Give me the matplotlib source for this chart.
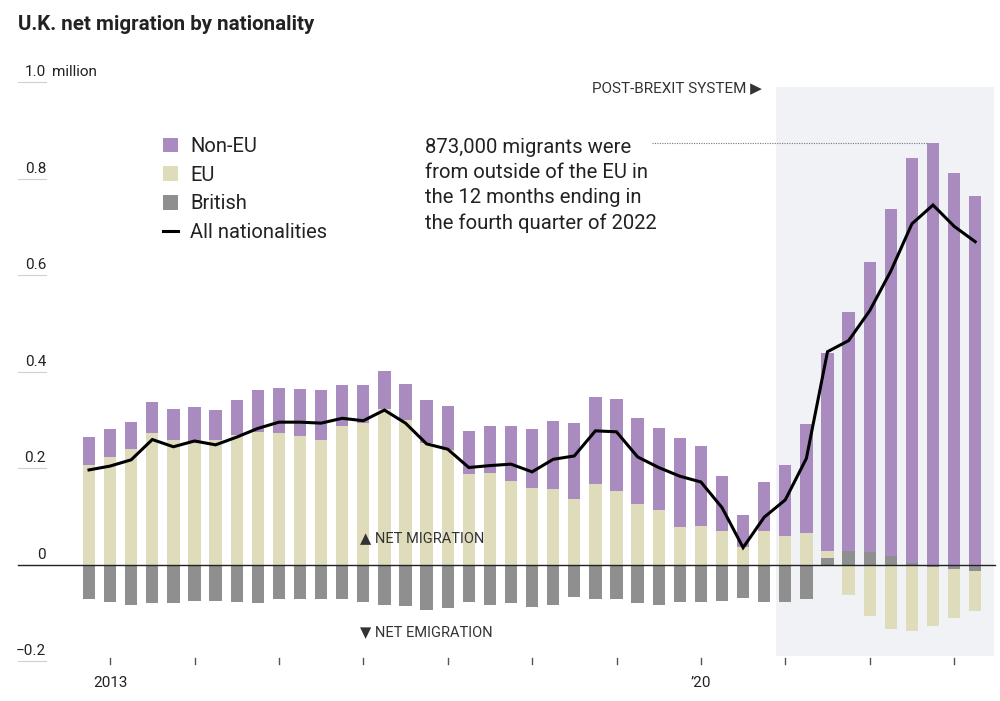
import numpy as np
import matplotlib
matplotlib.use('Agg')
import matplotlib.pyplot as plt
from matplotlib.patches import Patch, Rectangle
from matplotlib.lines import Line2D

plt.rcParams['font.family'] = ['Roboto', 'DejaVu Sans']

# quarters, 12 months ending in each quarter (2012 Q4 .. 2023 Q2)
quarters = [f"{y} Q{q}" for y in range(2012, 2024) for q in range(1, 5)][3:46]

# net migration, millions
non_eu = [0.059, 0.058, 0.056, 0.065, 0.064, 0.074, 0.063, 0.073, 0.086, 0.094,
          0.098, 0.102, 0.086, 0.079, 0.079, 0.075, 0.090, 0.092, 0.089, 0.098,
          0.114, 0.121, 0.141, 0.157, 0.180, 0.190, 0.178, 0.171, 0.185, 0.165,
          0.115, 0.067, 0.101, 0.147, 0.225, 0.410, 0.495, 0.602, 0.719, 0.838,
          0.873, 0.812, 0.763]
eu = [0.206, 0.222, 0.239, 0.272, 0.259, 0.252, 0.257, 0.268, 0.275, 0.272,
      0.266, 0.259, 0.287, 0.294, 0.322, 0.300, 0.251, 0.237, 0.188, 0.190,
      0.174, 0.159, 0.156, 0.136, 0.167, 0.153, 0.125, 0.112, 0.078, 0.080,
      0.069, 0.036, 0.069, 0.060, 0.066, 0.015, -0.064, -0.107, -0.133, -0.137,
      -0.122, -0.102, -0.083]
british = [-0.072, -0.077, -0.084, -0.080, -0.080, -0.075, -0.075, -0.077, -0.080, -0.072,
           -0.072, -0.072, -0.072, -0.077, -0.084, -0.087, -0.094, -0.091, -0.078, -0.084,
           -0.080, -0.089, -0.084, -0.067, -0.072, -0.072, -0.080, -0.084, -0.078, -0.077,
           -0.075, -0.069, -0.078, -0.078, -0.072, 0.014, 0.029, 0.025, 0.018, 0.004,
           -0.006, -0.009, -0.013]
all_nat = [0.196, 0.204, 0.217, 0.259, 0.244, 0.256, 0.248, 0.264, 0.282, 0.295,
           0.295, 0.293, 0.303, 0.298, 0.320, 0.293, 0.250, 0.239, 0.201, 0.205,
           0.208, 0.192, 0.218, 0.225, 0.277, 0.275, 0.223, 0.201, 0.183, 0.171,
           0.118, 0.035, 0.098, 0.134, 0.220, 0.441, 0.464, 0.526, 0.608, 0.706,
           0.745, 0.701, 0.669]

yticks = [1.0, 0.8, 0.6, 0.4, 0.2, 0, -0.2]
ytick_labels = ['1.0', '0.8', '0.6', '0.4', '0.2', '0', '\u22120.2']

C_NONEU = '#a98bbf'
C_EU = '#dfdcbb'
C_BRIT = '#8f8f8f'
C_TEXT = '#222222'

W, H = 1000, 701
fig = plt.figure(figsize=(10, 7.01), dpi=100)
ax = fig.add_axes([0, 0, 1, 1])
ax.axis('off')

# map pixel layout of the original: bar i centred at 89 + 21.1*i, zero at y=564.5
x0, dx = 89, 21.1
y0, dy = 564.5, 482.5
ax.set_xlim(-x0 / dx, (W - x0) / dx)
ax.set_ylim((y0 - H) / dy, y0 / dy)

def px(p):
    return (p - x0) / dx

def py(p):
    return (y0 - p) / dy

x = np.arange(len(quarters))

# post-Brexit shading
ax.add_patch(Rectangle((px(776), py(656)), px(994) - px(776), py(87) - py(656),
                       facecolor='#f0f2f5', edgecolor='none', zorder=0))

# stacked bars: positives stack upward, negatives downward
pos = np.zeros(len(x))
neg = np.zeros(len(x))
for vals, col in [(british, C_BRIT), (eu, C_EU), (non_eu, C_NONEU)]:
    v = np.array(vals)
    p = np.where(v > 0, v, 0)
    n = np.where(v < 0, v, 0)
    ax.bar(x, p, bottom=pos, width=0.58, color=col, zorder=2)
    ax.bar(x, n, bottom=neg, width=0.58, color=col, zorder=2)
    pos += p
    neg += n

ax.plot(x, all_nat, color='black', lw=2.2, zorder=4, solid_joinstyle='miter')

# zero line
ax.plot([px(18), px(995)], [0, 0], color='#222222', lw=1.0, zorder=3)

# y labels with short rules
for v, lab in zip(yticks, ytick_labels):
    ax.plot([px(18), px(46)], [v, v], color='#d0d0d0', lw=0.8, zorder=1)
    ax.text(px(46), v + 0.006, lab, ha='right', va='bottom', fontsize=11,
            color=C_TEXT)
ax.text(px(52), 1.0 + 0.006, 'million', ha='left', va='bottom', fontsize=11,
        color=C_TEXT)

# x ticks every year
for i in range(1, len(x), 4):
    ax.plot([i, i], [py(658), py(664)], color='#555555', lw=1.0)
ax.text(1, py(683), '2013', ha='center', va='center', fontsize=11, color=C_TEXT)
ax.text(29, py(683), '\u201920', ha='center', va='center', fontsize=11, color=C_TEXT)

# labels
ax.text(px(360), py(538), '\u25b2 NET MIGRATION', ha='left', va='center',
        fontsize=10.5, color='#333333')
ax.text(px(360), py(632), '\u25bc NET EMIGRATION', ha='left', va='center',
        fontsize=10.5, color='#333333')
ax.text(px(762), py(88), 'POST-BREXIT SYSTEM \u25b6', ha='right', va='center',
        fontsize=11, color='#333333')

# annotation
ax.text(px(425), py(138), '873,000 migrants were\nfrom outside of the EU in\n'
        'the 12 months ending in\nthe fourth quarter of 2022',
        ha='left', va='top', fontsize=14.6, color=C_TEXT, linespacing=1.4)
ax.plot([px(652), 40 - 0.3], [non_eu[40], non_eu[40]], color='#777777',
        lw=0.8, ls=(0, (1, 1.2)), zorder=3)

# title
fig.text(18 / W, 1 - 25 / H, 'U.K. net migration by nationality', ha='left',
         va='center', fontsize=14.8, fontweight='bold', color=C_TEXT)

# legend
handles = [Patch(facecolor=C_NONEU, label='Non-EU'),
           Patch(facecolor=C_EU, label='EU'),
           Patch(facecolor=C_BRIT, label='British'),
           Line2D([], [], color='black', lw=2.2, label='All nationalities')]
leg = fig.legend(handles=handles, loc='upper left',
                 bbox_to_anchor=(163 / W, 1 - 137 / H), frameon=False,
                 fontsize=14.5, handlelength=0.75, handleheight=0.75,
                 handletextpad=0.6, labelspacing=0.48, borderpad=0,
                 borderaxespad=0)
for t in leg.get_texts():
    t.set_color(C_TEXT)

fig.savefig('out.png', dpi=100)
